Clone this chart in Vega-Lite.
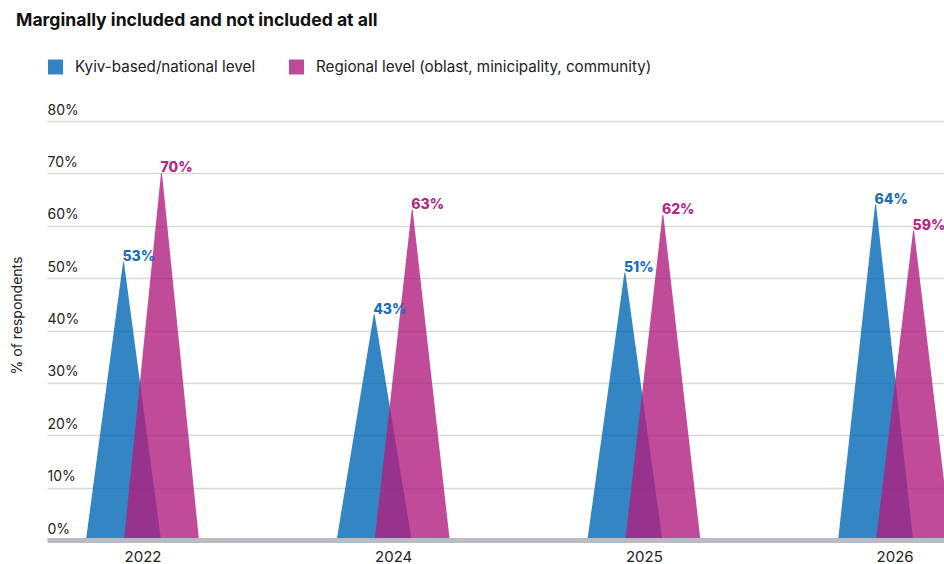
{
  "$schema": "https://vega.github.io/schema/vega-lite/v6.json",
  "width": 897,
  "height": 419,
  "autosize": {"type": "none"},
  "padding": {"left": 47, "top": 121, "right": 0, "bottom": 24},
  "background": "white",
  "config": {
    "font": "Inter",
    "view": {"stroke": null},
    "axis": {"labelFont": "Inter", "titleFont": "Inter"}
  },
  "title": {
    "text": "Marginally included and not included at all",
    "anchor": "start",
    "frame": "group",
    "font": "Inter",
    "fontSize": 17.6,
    "fontWeight": "bold",
    "color": "#111111",
    "dx": -31,
    "offset": 22
  },
  "data": {
    "values": [
      {"year": "2022", "series": "Kyiv-based/national level", "value": 0.53, "end": "tip"},
      {"year": "2024", "series": "Kyiv-based/national level", "value": 0.43, "end": "tip"},
      {"year": "2025", "series": "Kyiv-based/national level", "value": 0.51, "end": "tip"},
      {"year": "2026", "series": "Kyiv-based/national level", "value": 0.64, "end": "tip"},
      {"year": "2022", "series": "Regional level (oblast, minicipality, community)", "value": 0.70, "end": "tip"},
      {"year": "2024", "series": "Regional level (oblast, minicipality, community)", "value": 0.63, "end": "tip"},
      {"year": "2025", "series": "Regional level (oblast, minicipality, community)", "value": 0.62, "end": "tip"},
      {"year": "2026", "series": "Regional level (oblast, minicipality, community)", "value": 0.59, "end": "tip"}
    ]
  },
  "encoding": {
    "x": {
      "field": "year",
      "type": "nominal",
      "sort": ["2022", "2024", "2025", "2026"],
      "scale": {"type": "point", "padding": 0.289, "align": 0.659},
      "axis": {
        "title": null,
        "labelAngle": 0,
        "labelFontSize": 15,
        "labelColor": "#222222",
        "ticks": false,
        "tickSize": 0,
        "labelPadding": 9,
        "domainColor": "#b9bdc2",
        "domainWidth": 5,
        "grid": false,
        "zindex": 1
      }
    },
    "xOffset": {
      "field": "series",
      "type": "nominal",
      "scale": {"type": "point", "padding": 0, "range": [-19, 19]}
    },
    "y": {
      "field": "value",
      "type": "quantitative",
      "scale": {"domain": [0, 0.8], "nice": false},
      "axis": {
        "title": "% of respondents",
        "titleFontSize": 14,
        "titleFontWeight": "normal",
        "titleColor": "#222222",
        "titleAngle": -90,
        "titleAlign": "center",
        "titleBaseline": "alphabetic",
        "titleX": -25.5,
        "titleY": 194,
        "values": [0, 0.1, 0.2, 0.3, 0.4, 0.5, 0.6, 0.7, 0.8],
        "format": ".0%",
        "labelFontSize": 14,
        "labelColor": "#222222",
        "labelAlign": "left",
        "labelBaseline": "alphabetic",
        "labelPadding": 0,
        "labelDx": -1,
        "labelOffset": -7,
        "ticks": false,
        "tickSize": 0,
        "domain": false,
        "grid": true,
        "gridColor": "#d9d9d4",
        "gridWidth": 1.5
      }
    }
  },
  "layer": [
    {
      "transform": [
        {"impute": "value", "key": "end", "keyvals": ["base", "tip"], "groupby": ["year", "series"], "value": 0}
      ],
      "mark": {"type": "trail", "clip": true, "opacity": 0.8},
      "encoding": {
        "detail": {"field": "year", "type": "nominal"},
        "order": {"field": "end", "type": "nominal"},
        "size": {
          "field": "end",
          "type": "ordinal",
          "scale": {"type": "point", "domain": ["base", "tip"], "range": [75, 0]},
          "legend": null
        },
        "color": {
          "field": "series",
          "type": "nominal",
          "scale": {
            "domain": ["Kyiv-based/national level", "Regional level (oblast, minicipality, community)"],
            "range": ["#0066b5", "#b01e7e"]
          },
          "legend": {
            "title": null,
            "orient": "none",
            "direction": "horizontal",
            "legendX": -6.5,
            "legendY": -69,
            "symbolType": "stroke",
            "symbolSize": 225,
            "symbolStrokeWidth": 15,
            "symbolOpacity": 0.8,
            "labelFontSize": 15.2,
            "labelColor": "#222222",
            "labelOffset": 4.5,
            "columnPadding": 3,
            "padding": 0,
            "labelLimit": 500
          }
        }
      }
    },
    {
      "mark": {"type": "text", "align": "left", "baseline": "alphabetic", "dx": -1, "dy": -1, "fontSize": 14, "fontWeight": 800, "font": "Inter"},
      "encoding": {
        "text": {"field": "value", "type": "quantitative", "format": ".0%"},
        "color": {
          "condition": {"test": "datum.series === 'Kyiv-based/national level'", "value": "#1c6db4"},
          "value": "#b02a88"
        }
      }
    }
  ]
}
